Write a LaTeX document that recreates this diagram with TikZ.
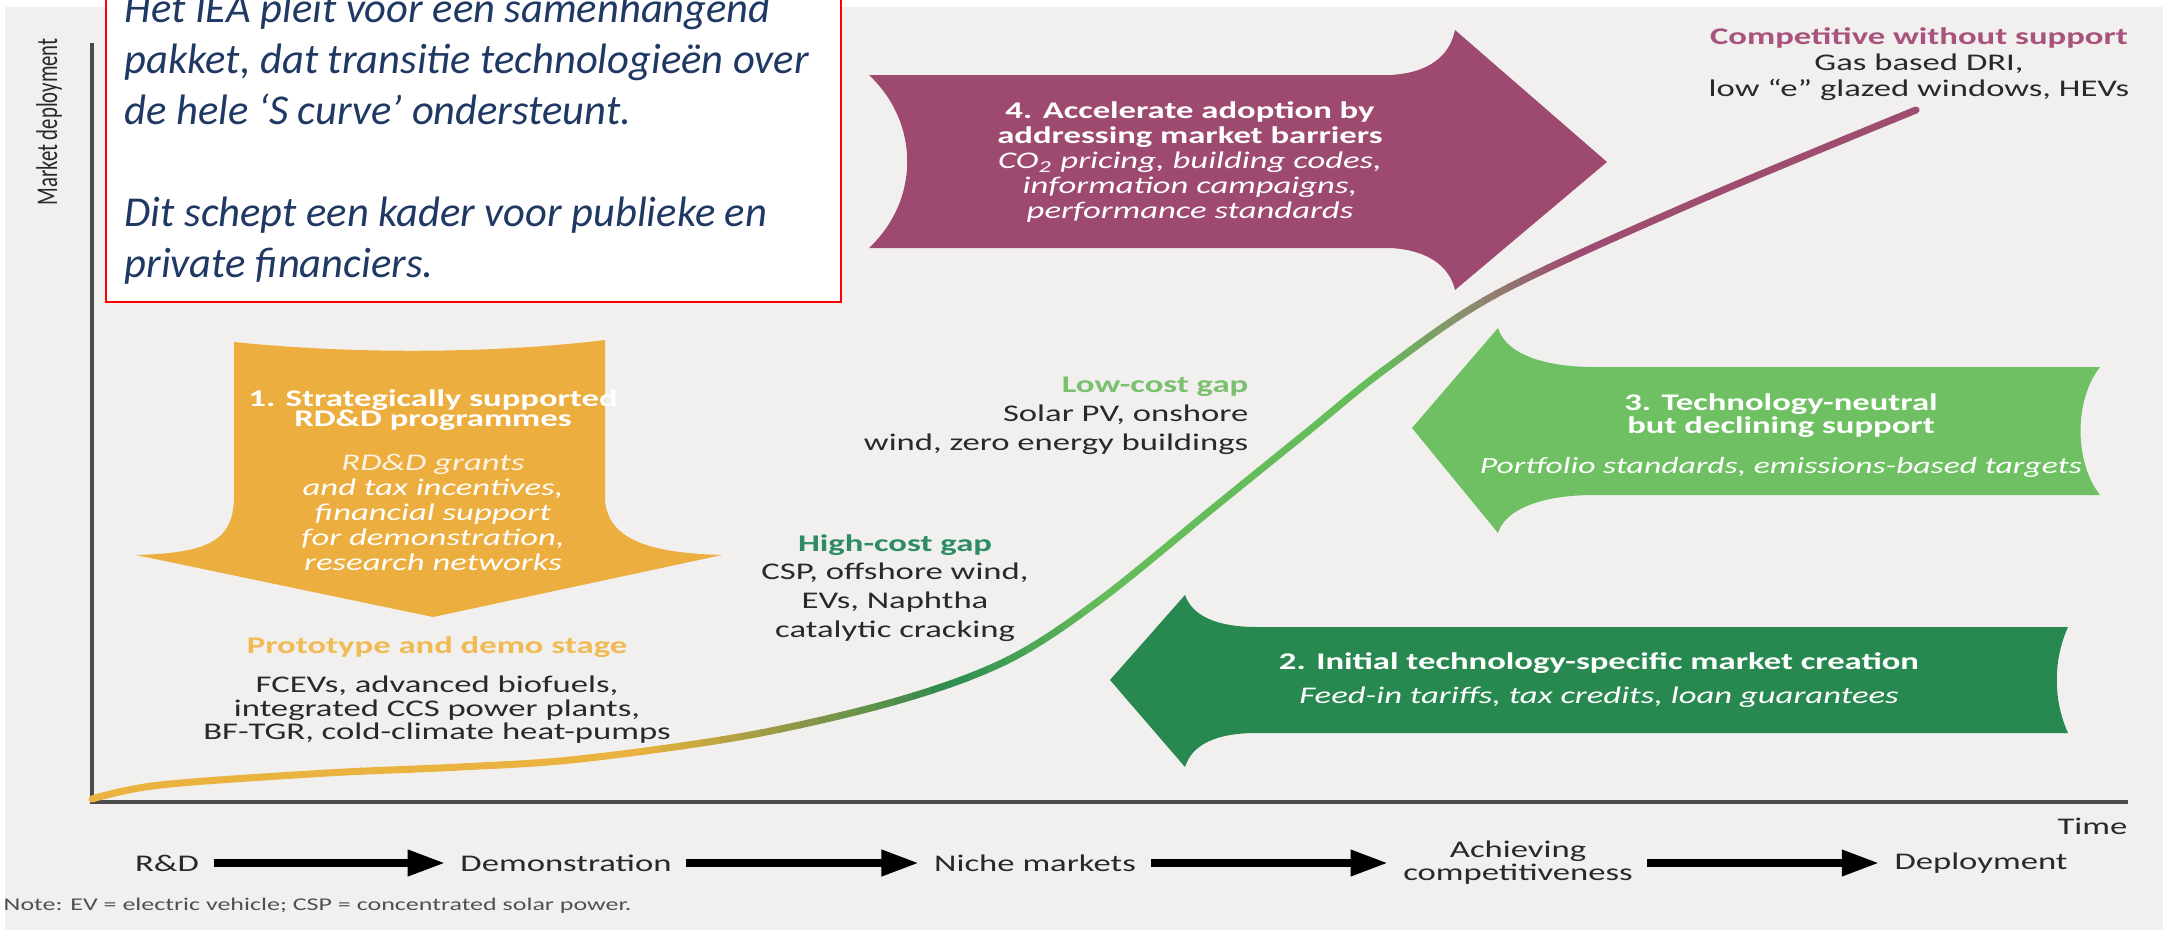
\documentclass[tikz,border=0pt]{standalone}
\usepackage{fontspec}
\setmainfont{Carlito}
\newfontfamily\chartfont[FakeStretch=1.45]{Carlito}
\usepackage{tikz}
\usetikzlibrary{arrows.meta,positioning,calc}

\definecolor{bggray}{RGB}{241,240,238}
\definecolor{inkgray}{RGB}{40,40,45}
\definecolor{notegray}{RGB}{80,80,80}
\definecolor{axisgray}{RGB}{75,75,75}
\definecolor{ieablue}{RGB}{31,56,100}
\definecolor{paars}{RGB}{158,74,112}
\definecolor{goud}{RGB}{236,174,62}
\definecolor{lichtgroen}{RGB}{110,192,98}
\definecolor{donkergroen}{RGB}{40,137,80}
\definecolor{protogold}{RGB}{240,186,84}
\definecolor{compurple}{RGB}{168,82,126}
\definecolor{lowgreen}{RGB}{122,192,110}
\definecolor{highgreen}{RGB}{45,140,100}
% colours along the s curve
\definecolor{cy}{RGB}{234,178,62}
\definecolor{co}{RGB}{140,150,70}
\definecolor{cg}{RGB}{45,140,80}
\definecolor{cl}{RGB}{100,188,90}
\definecolor{cx}{RGB}{140,140,110}
\definecolor{cp}{RGB}{158,76,112}

\newcommand\chartsize[2]{\fontsize{#1}{#2}\selectfont}
\newcommand\scurve{plot[smooth, tension=0.55] coordinates {(92,799) (160,785) (327,773) (460,767) (580,759) (750,735) (900,700) (1008,660) (1100,600) (1217,505) (1306,433) (1388,367) (1500,292) (1700,200) (1916,110)}}

\begin{document}
\begin{tikzpicture}[x=0.01cm, y=-0.01cm,
    body/.style={font=\chartfont\chartsize{6.8}{6.6}, text=inkgray, align=center, inner sep=0pt},
    arrowtxt/.style={body, font=\chartfont\chartsize{6.8}{7.1}, text=white},
    stage/.style={body, inner sep=0pt},
    fase/.style={line width=2pt, -{Triangle[length=0.37cm,width=0.25cm]}, shorten <=0.14cm, shorten >=0.15cm},
    axis/.style={line width=1pt, draw=axisgray}]

    % background
    \fill[white] (0,0) rectangle (2169,930);
    \fill[bggray] (5,7) rectangle (2163,930);
    \useasboundingbox (0,0) rectangle (2169,930);

    \coordinate (O) at (92,802);

    % policy arrows
    \fill[paars] (869,75) -- (1390,75) .. controls (1430,73) and (1450,55) .. (1455,30)
        -- (1607,162) -- (1455,290) .. controls (1450,268) and (1430,250) .. (1390,248)
        -- (869,248) .. controls (920,200) and (920,123) .. (869,75) -- cycle;
    \fill[goud] (234,342) .. controls (350,354) and (490,354) .. (605,340) -- (605,500)
        .. controls (608,540) and (650,553) .. (722,555) -- (433,617) -- (136,555)
        .. controls (210,553) and (232,540) .. (234,500) -- cycle;
    \fill[lichtgroen] (1412,428) -- (1498,328) .. controls (1505,352) and (1540,367) .. (1594,367)
        -- (2100,367) .. controls (2074,400) and (2074,462) .. (2100,495) -- (1594,495)
        .. controls (1540,495) and (1505,510) .. (1498,533) -- cycle;
    \fill[donkergroen] (1110,680) -- (1185,595) .. controls (1192,615) and (1215,627) .. (1257,627)
        -- (2068,627) .. controls (2053,660) and (2053,700) .. (2068,733) -- (1257,733)
        .. controls (1215,733) and (1192,745) .. (1185,767) -- cycle;

    % axes
    \draw[axis] (92,43) -- (O) -- (2128,802);

    % s curve, coloured strip by strip
    \foreach \xa/\xb/\ca/\cb in {80/640/cy/cy, 640/800/cy/co, 800/950/co/cg, 950/1100/cg/cl,
        1100/1380/cl/cl, 1380/1470/cl/cx, 1470/1570/cx/cp, 1570/1940/cp/cp}
      \foreach \k in {0,...,7} {
        \pgfmathsetmacro\xl{\xa+(\xb-\xa)*\k/8}
        \pgfmathsetmacro\xr{\xa+(\xb-\xa)*(\k+1)/8+1}
        \pgfmathtruncatemacro\pc{100-12.5*\k-6}
        \begin{scope}
          \clip (\xl,0) rectangle (\xr,930);
          \draw[line width=2pt, line cap=round, \ca!\pc!\cb] \scurve;
        \end{scope}
      }

    % texts in the arrows
    \node[arrowtxt] (adopt) at (1190,162) {\textbf{4. Accelerate adoption by}\\
        \textbf{addressing market barriers}\\ \textit{CO\textsubscript{2} pricing, building codes,}\\
        \textit{information campaigns,}\\ \textit{performance standards}};
    \node[arrowtxt] (rdd) at (433,480) {\textbf{1. Strategically supported}\\[-1.3pt]
        \textbf{RD\&D programmes}\\[5.3pt]
        \color{white!85!goud}\textit{RD\&D grants}\\ \textit{and tax incentives,}\\
        \textit{financial support}\\ \textit{for demonstration,}\\ \textit{research networks}};
    \node[arrowtxt] (neutral) at (1781,436) {\textbf{3. Technology-neutral}\\[-0.6pt]
        \textbf{but declining support}\\[4.3pt]
        \fontsize{6.6}{7.1}\selectfont\textit{Portfolio standards, emissions-based targets}};
    \node[arrowtxt] (initial) at (1599,680) {\textbf{2. Initial technology-specific market creation}\\[2.6pt]
        \textit{Feed-in tariffs, tax credits, loan guarantees}};

    % stages on the curve
    \node[body, font=\chartfont\chartsize{6.8}{7.4}] (compet) at (1919,64)
        {\textcolor{compurple}{\textbf{Competitive without support}}\\ Gas based DRI,\\
        low “e” glazed windows, HEVs};
    \node[body, align=right, anchor=east, font=\chartfont\chartsize{6.8}{8.2}] (lowgap) at (1249,416)
        {\textcolor{lowgreen}{\textbf{Low-cost gap}}\\ Solar PV, onshore\\ wind, zero energy buildings};
    \node[body, font=\chartfont\chartsize{6.8}{8.2}] (highgap) at (895,588)
        {\textcolor{highgreen}{\textbf{High-cost gap}}\\ CSP, offshore wind,\\ EVs, Naphtha\\ catalytic cracking};
    \node[body] (proto) at (437,690) {\textcolor{protogold}{\textbf{Prototype and demo stage}}\\[4.6pt]
        FCEVs, advanced biofuels,\\ integrated CCS power plants,\\ BF-TGR, cold-climate heat-pumps};

    % axis labels
    \node[rotate=90, font=\chartsize{5.9}{6}, text=inkgray, inner sep=0pt] (ylab) at (49,122)
        {\scalebox{1}[1.45]{Market deployment}};
    \node[body, anchor=east] (time) at (2128,826) {Time};

    % phases
    \node[stage] (rd) at (167,863) {R\&D};
    \node[stage] (demo) at (566,863) {Demonstration};
    \node[stage] (niche) at (1035,863) {Niche markets};
    \node[stage] (achieve) at (1518,863) {Achieving\\competitiveness};
    \node[stage] (deploy) at (1981,863) {Deployment};
    \foreach \a/\b in {rd/demo, demo/niche, niche/achieve, achieve/deploy}
        \draw[fase] (\a) -- (\b);

    \node[body, anchor=west, text=notegray, font=\chartfont\chartsize{5.1}{6}] (note) at (3,906)
        {Note: EV = electric vehicle; CSP = concentrated solar power.};

    % red box
    \draw[red, line width=0.8pt, fill=white] (106,-10) rectangle (841,302);
    \node[anchor=base west, align=left, inner sep=0pt, text=ieablue,
        font=\chartsize{12.1}{14.5}\itshape] (kader) at (124,277)
        {Het IEA pleit voor een samenhangend\\ pakket, dat transitie technologieën over\\
        de hele ‘S curve’ ondersteunt.\\[14.5pt] Dit schept een kader voor publieke en\\
        private financiers.};
\end{tikzpicture}
\end{document}
